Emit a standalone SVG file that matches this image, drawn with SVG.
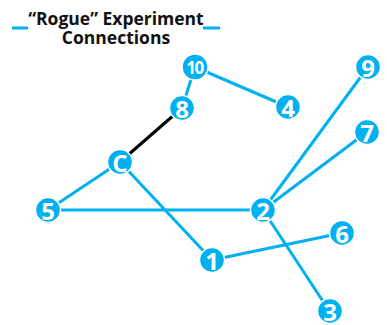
<svg xmlns="http://www.w3.org/2000/svg" width="387" height="325" viewBox="0 0 387 325">
  <style>
    .edge { stroke: #00b0f0; stroke-width: 3; fill: none; }
    .edge.dark { stroke: #000000; }
    .node circle { fill: #00b0f0; stroke: #ffffff; stroke-width: 1.5; }
    .node text { fill: #ffffff; font-family: "Open Sans", "Liberation Sans", sans-serif; font-weight: bold; font-size: 24px; text-anchor: middle; dominant-baseline: central; }
    .node text.small { font-size: 17px; letter-spacing: -1.5px; }
    .title { fill: #111111; font-family: "Open Sans", "Liberation Sans", sans-serif; font-weight: bold; font-size: 17.5px; text-anchor: middle; }
    .dash { stroke: #00b0f0; stroke-width: 3; }
  </style>
  <rect width="387" height="325" fill="#ffffff"/>

  <g id="title">
    <text class="title" x="116" y="25">“Rogue” Experiment</text>
    <text class="title" x="116" y="44">Connections</text>
    <line class="dash" x1="12" y1="28" x2="28" y2="28"/>
    <line class="dash" x1="203" y1="28" x2="220" y2="28"/>
  </g>

  <g id="connectors">
    <line class="edge" x1="195" y1="67" x2="182" y2="108"/>
    <line class="edge" x1="195" y1="67" x2="288" y2="107"/>
    <line class="edge dark" x1="182" y1="108" x2="120" y2="162"/>
    <line class="edge" x1="120" y1="162" x2="48" y2="210"/>
    <line class="edge" x1="120" y1="162" x2="212" y2="260"/>
    <line class="edge" x1="48" y1="210" x2="263" y2="210"/>
    <line class="edge" x1="263" y1="210" x2="368" y2="67"/>
    <line class="edge" x1="263" y1="210" x2="367" y2="132"/>
    <line class="edge" x1="263" y1="210" x2="330" y2="312"/>
    <line class="edge" x1="212" y1="260" x2="342" y2="233"/>
  </g>

  <g id="node-10" class="node"><circle cx="195" cy="67" r="13"/><text class="small" x="194.5" y="67">10</text></g>
  <g id="node-8" class="node"><circle cx="182" cy="108" r="12.5"/><text x="182" y="108">8</text></g>
  <g id="node-4" class="node"><circle cx="288" cy="107" r="12.5"/><text x="288" y="107">4</text></g>
  <g id="node-C" class="node"><circle cx="120" cy="162" r="12.5"/><text x="120" y="162">C</text></g>
  <g id="node-5" class="node"><circle cx="48" cy="210" r="12.5"/><text x="48" y="210">5</text></g>
  <g id="node-2" class="node"><circle cx="263" cy="210" r="12.5"/><text x="263" y="210">2</text></g>
  <g id="node-1" class="node"><circle cx="212" cy="260" r="12.5"/><text x="212" y="260">1</text></g>
  <g id="node-6" class="node"><circle cx="342" cy="233" r="12.5"/><text x="342" y="233">6</text></g>
  <g id="node-3" class="node"><circle cx="330" cy="311" r="12.5"/><text x="330" y="311">3</text></g>
  <g id="node-9" class="node"><circle cx="368" cy="67" r="12.5"/><text x="368" y="67">9</text></g>
  <g id="node-7" class="node"><circle cx="367" cy="132" r="12.5"/><text x="367" y="132">7</text></g>
</svg>
